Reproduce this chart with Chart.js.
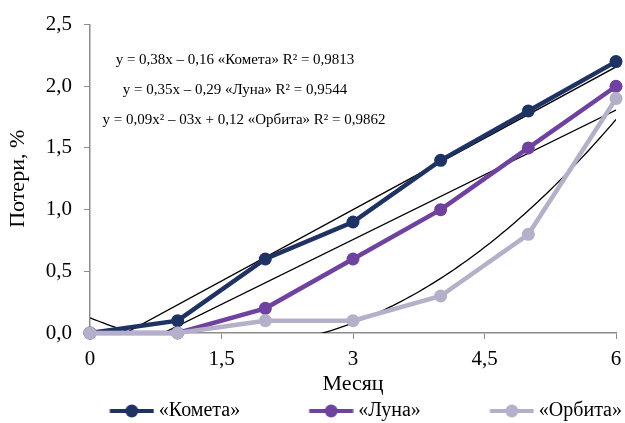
<!DOCTYPE html>
<html>
<head>
<meta charset="utf-8">
<script src="https://cdn.jsdelivr.net/npm/chart.js@4.4.0/dist/chart.umd.min.js"></script>
<style>
  html, body { margin: 0; padding: 0; background: #fff; }
  #wrap { width: 625px; height: 423px; }
</style>
</head>
<body>
<div id="wrap"><canvas id="myChart" width="625" height="423"></canvas></div>
<script>
// months
var months = [0, 1, 2, 3, 4, 5, 6];
// losses, %
var kometa = [0, 0.1, 0.6, 0.9, 1.4, 1.8, 2.2];
var luna   = [0, 0, 0.2, 0.6, 1.0, 1.5, 2.0];
var orbita = [0, 0, 0.1, 0.1, 0.3, 0.8, 1.9];

var seriesNames = ['«Комета»', '«Луна»', '«Орбита»'];
var seriesColors = ['#1f3264', '#7042a0', '#b4b0c9'];

var equations = [
    'y = 0,38x – 0,16 «Комета» R² = 0,9813',
    'y = 0,35x – 0,29 «Луна» R² = 0,9544',
    'y = 0,09x² – 03x + 0,12 «Орбита» R² = 0,9862'
];
// where the equation labels sit, in data units (month, %)
var equationPos = [[1.654, 2.21], [1.654, 1.968], [1.757, 1.726]];

var font = "'Liberation Serif', 'Times New Roman', serif";

function toPoints(ys) {
    return months.map(function(x, i) { return {x: x, y: ys[i]}; });
}

// least squares trendlines, like the ones of the original chart
function linFit(ys) {
    var n = months.length, sx = 0, sy = 0, sxx = 0, sxy = 0;
    for (var i = 0; i < n; i++) {
        sx += months[i]; sy += ys[i];
        sxx += months[i] * months[i]; sxy += months[i] * ys[i];
    }
    var b = (n * sxy - sx * sy) / (n * sxx - sx * sx);
    var a = (sy - b * sx) / n;
    return [{x: 0, y: a}, {x: 6, y: a + b * 6}];
}

function quadFit(ys) {
    // normal equations for y = a + b x + c x^2
    var s = [0, 0, 0, 0, 0], t = [0, 0, 0];
    for (var i = 0; i < months.length; i++) {
        var x = months[i];
        for (var k = 0; k < 5; k++) s[k] += Math.pow(x, k);
        for (var k2 = 0; k2 < 3; k2++) t[k2] += Math.pow(x, k2) * ys[i];
    }
    var M = [[s[0], s[1], s[2], t[0]], [s[1], s[2], s[3], t[1]], [s[2], s[3], s[4], t[2]]];
    for (var c = 0; c < 3; c++) {
        for (var r = c + 1; r < 3; r++) {
            var f = M[r][c] / M[c][c];
            for (var j = c; j < 4; j++) M[r][j] -= f * M[c][j];
        }
    }
    var coef = [0, 0, 0];
    for (var r2 = 2; r2 >= 0; r2--) {
        var v = M[r2][3];
        for (var j2 = r2 + 1; j2 < 3; j2++) v -= M[r2][j2] * coef[j2];
        coef[r2] = v / M[r2][r2];
    }
    var pts = [];
    for (var x2 = 0; x2 <= 6.0001; x2 += 0.05) {
        pts.push({x: x2, y: coef[0] + coef[1] * x2 + coef[2] * x2 * x2});
    }
    return pts;
}

// legend marker: line with a dot, pushed to the right end of a wide transparent image
var BOX_W = 105;
function legendIcon(color) {
    var c = document.createElement('canvas');
    c.width = 116; c.height = 16;
    var g = c.getContext('2d');
    var x0 = 58 + BOX_W / 2 + 5 - 44, x1 = 58 + BOX_W / 2 + 5;
    g.strokeStyle = color; g.lineWidth = 4;
    g.beginPath(); g.moveTo(x0, 8); g.lineTo(x1, 8); g.stroke();
    g.fillStyle = color;
    g.beginPath(); g.arc((x0 + x1) / 2, 8, 6.5, 0, Math.PI * 2); g.fill();
    return c;
}

function trend(data) {
    return {
        data: data, borderColor: '#000', borderWidth: 1.3,
        pointRadius: 0, pointHoverRadius: 0, fill: false, isTrend: true
    };
}

function series(i, ys) {
    return {
        label: seriesNames[i], data: toPoints(ys), order: -i, clip: false,
        borderColor: seriesColors[i], backgroundColor: seriesColors[i],
        borderWidth: 4.5, pointRadius: 6.5, pointStyle: 'circle',
        pointBackgroundColor: seriesColors[i], pointBorderWidth: 0
    };
}

var equationPlugin = {
    id: 'equations',
    afterDatasetsDraw: function(chart) {
        var g = chart.ctx, xs = chart.scales.x, ys = chart.scales.y;
        g.save();
        g.font = '15px ' + font;
        g.fillStyle = '#000';
        g.textAlign = 'center';
        g.textBaseline = 'middle';
        equations.forEach(function(t, i) {
            g.fillText(t, xs.getPixelForValue(equationPos[i][0]), ys.getPixelForValue(equationPos[i][1]));
        });
        g.restore();
    }
};

var ctx = document.getElementById('myChart');

var graphique = new Chart(ctx.getContext('2d'), {
    type: 'line',
    data: {
        datasets: [
            series(0, kometa),
            series(1, luna),
            series(2, orbita),
            trend(linFit(kometa)),
            trend(linFit(luna)),
            trend(quadFit(orbita))
        ]
    },
    options: {
        responsive: false,
        animation: false,
        layout: { padding: { top: 22, right: 0, left: 0, bottom: -8 } },
        plugins: {
            tooltip: { enabled: false },
            legend: {
                position: 'bottom',
                align: 'end',
                labels: {
                    usePointStyle: true,
                    pointStyleWidth: BOX_W,
                    padding: 3,
                    color: '#000',
                    font: { family: font, size: 20 },
                    filter: function(item, data) {
                        return !data.datasets[item.datasetIndex].isTrend;
                    },
                    generateLabels: function(chart) {
                        return chart.data.datasets.map(function(ds, i) {
                            return {
                                text: ds.label || '', datasetIndex: i,
                                pointStyle: ds.isTrend ? 'line' : legendIcon(ds.borderColor),
                                fontColor: '#000', lineWidth: 0, hidden: false
                            };
                        });
                    }
                }
            }
        },
        scales: {
            x: {
                type: 'linear', min: 0, max: 6,
                afterFit: function(s) { s.height = 65; s.paddingRight = 9; },
                ticks: {
                    stepSize: 1.5, color: '#000', padding: 8,
                    font: { family: font, size: 21 },
                    callback: function(v) { return String(v).replace('.', ','); }
                },
                grid: { drawOnChartArea: false, tickLength: 6, color: '#8c8c8c' },
                border: { color: '#8c8c8c', width: 1.5 },
                title: {
                    display: true, text: 'Месяц', color: '#000', padding: { top: 0, bottom: 1 },
                    font: { family: font, size: 22 }
                }
            },
            y: {
                min: 0, max: 2.5,
                afterFit: function(s) { s.width = 90; },
                ticks: {
                    stepSize: 0.5, color: '#000', padding: 12,
                    font: { family: font, size: 21 },
                    callback: function(v) { return v.toFixed(1).replace('.', ','); }
                },
                grid: { drawOnChartArea: false, tickLength: 6, color: '#8c8c8c' },
                border: { color: '#8c8c8c', width: 1.5 },
                title: {
                    display: true, text: 'Потери, %', color: '#000', padding: { top: 5, bottom: 0 },
                    font: { family: font, size: 22 }
                }
            }
        }
    },
    plugins: [equationPlugin]
});
</script>
</body>
</html>
